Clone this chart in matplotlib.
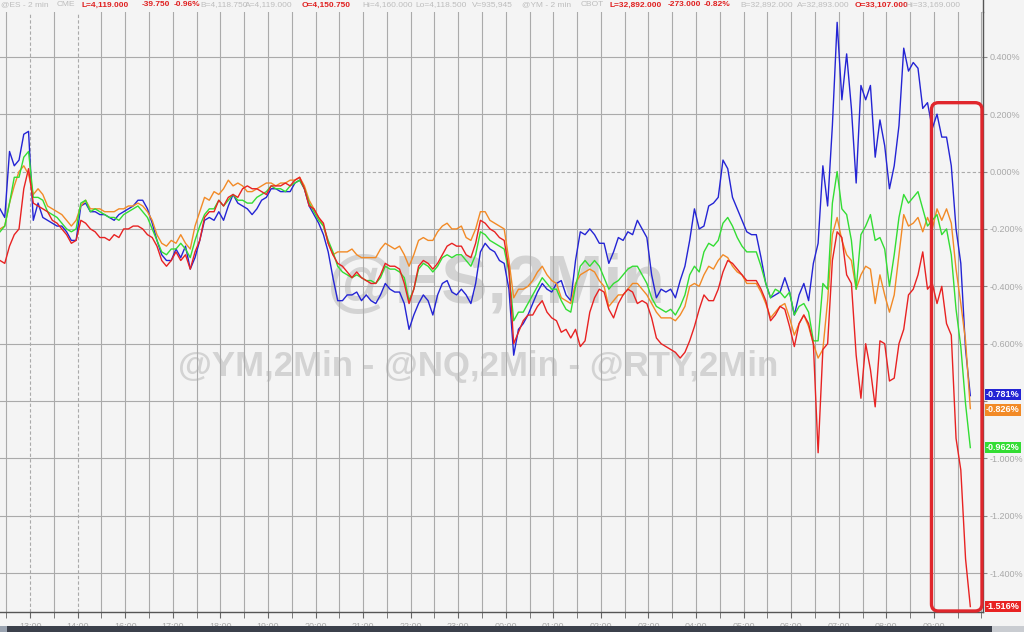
import numpy as np
import matplotlib
matplotlib.use("Agg")
import matplotlib.pyplot as plt
from matplotlib.patches import FancyBboxPatch, Rectangle
from matplotlib.lines import Line2D
from matplotlib.transforms import IdentityTransform

plt.rcParams['font.family'] = ['Liberation Sans', 'DejaVu Sans']

# 2-min charts sampled every 6 minutes, minutes from 12:22 on the chart clock
t = np.arange(205) * 6

ym_blue = [
    -0.13, -0.16, 0.07, 0.02, 0.04, 0.13, 0.14, -0.17, -0.11, -0.16,
    -0.17, -0.18, -0.19, -0.19, -0.21, -0.24, -0.24, -0.12, -0.11, -0.14,
    -0.14, -0.15, -0.15, -0.16, -0.17, -0.15, -0.14, -0.13, -0.12, -0.10,
    -0.10, -0.13, -0.18, -0.24, -0.29, -0.31, -0.31, -0.27, -0.30, -0.26,
    -0.34, -0.30, -0.24, -0.17, -0.16, -0.17, -0.14, -0.17, -0.12, -0.08,
    -0.11, -0.12, -0.13, -0.15, -0.13, -0.10, -0.09, -0.06, -0.06, -0.07,
    -0.07, -0.07, -0.04, -0.03, -0.06, -0.12, -0.15, -0.18, -0.22, -0.28,
    -0.37, -0.45, -0.45, -0.43, -0.43, -0.42, -0.45, -0.43, -0.45, -0.46,
    -0.43, -0.39, -0.41, -0.42, -0.42, -0.46, -0.55, -0.50, -0.46, -0.43,
    -0.45, -0.50, -0.43, -0.39, -0.38, -0.42, -0.43, -0.41, -0.43, -0.46,
    -0.39, -0.28, -0.25, -0.27, -0.28, -0.31, -0.32, -0.41, -0.64, -0.55,
    -0.53, -0.50, -0.46, -0.42, -0.39, -0.41, -0.42, -0.39, -0.38, -0.43,
    -0.45, -0.31, -0.21, -0.22, -0.20, -0.22, -0.25, -0.25, -0.32, -0.28,
    -0.23, -0.24, -0.21, -0.22, -0.17, -0.20, -0.23, -0.36, -0.44, -0.41,
    -0.42, -0.41, -0.44, -0.38, -0.33, -0.24, -0.13, -0.20, -0.19, -0.12,
    -0.11, -0.09, 0.04, 0.01, -0.09, -0.13, -0.17, -0.21, -0.22, -0.22,
    -0.30, -0.39, -0.44, -0.43, -0.42, -0.37, -0.42, -0.50, -0.43, -0.39,
    -0.45, -0.32, -0.25, 0.02, -0.12, 0.16, 0.52, 0.25, 0.41, 0.22,
    -0.04, 0.30, 0.25, 0.30, 0.05, 0.18, 0.09, -0.06, 0.02, 0.16,
    0.43, 0.35, 0.38, 0.36, 0.22, 0.24, 0.15, 0.20, 0.12, 0.12,
    0.02, -0.20, -0.32, -0.62, -0.781,
]

es_orange = [
    -0.20, -0.19, -0.11, -0.05, 0.00, 0.02, -0.01, -0.08, -0.06, -0.08,
    -0.12, -0.13, -0.14, -0.15, -0.17, -0.19, -0.17, -0.12, -0.10, -0.13,
    -0.13, -0.13, -0.14, -0.14, -0.14, -0.13, -0.13, -0.12, -0.12, -0.11,
    -0.12, -0.14, -0.17, -0.22, -0.25, -0.26, -0.24, -0.25, -0.22, -0.25,
    -0.27, -0.19, -0.14, -0.09, -0.10, -0.07, -0.08, -0.06, -0.03, -0.05,
    -0.04, -0.05, -0.07, -0.07, -0.06, -0.05, -0.04, -0.04, -0.05, -0.04,
    -0.04, -0.03, -0.03, -0.02, -0.05, -0.10, -0.13, -0.16, -0.19, -0.25,
    -0.29, -0.28, -0.28, -0.28, -0.27, -0.29, -0.30, -0.30, -0.30, -0.30,
    -0.27, -0.25, -0.26, -0.27, -0.26, -0.29, -0.33, -0.29, -0.24, -0.23,
    -0.24, -0.24, -0.21, -0.19, -0.18, -0.20, -0.20, -0.19, -0.23, -0.24,
    -0.20, -0.14, -0.14, -0.17, -0.18, -0.19, -0.20, -0.31, -0.44, -0.41,
    -0.41, -0.40, -0.38, -0.35, -0.33, -0.36, -0.38, -0.39, -0.44, -0.45,
    -0.46, -0.39, -0.36, -0.35, -0.34, -0.35, -0.38, -0.40, -0.47, -0.45,
    -0.43, -0.43, -0.41, -0.39, -0.39, -0.41, -0.43, -0.46, -0.49, -0.51,
    -0.51, -0.51, -0.52, -0.50, -0.47, -0.40, -0.39, -0.40, -0.36, -0.33,
    -0.34, -0.31, -0.29, -0.30, -0.33, -0.35, -0.36, -0.39, -0.39, -0.39,
    -0.42, -0.46, -0.51, -0.49, -0.47, -0.46, -0.51, -0.57, -0.53, -0.50,
    -0.54, -0.60, -0.65, -0.62, -0.45, -0.22, -0.16, -0.24, -0.29, -0.31,
    -0.41, -0.36, -0.33, -0.34, -0.46, -0.36, -0.43, -0.49, -0.43, -0.29,
    -0.15, -0.19, -0.18, -0.16, -0.21, -0.16, -0.20, -0.13, -0.17, -0.13,
    -0.18, -0.34, -0.46, -0.59, -0.826,
]

nq_green = [
    -0.21, -0.19, -0.11, -0.02, -0.02, 0.05, 0.07, -0.09, -0.09, -0.10,
    -0.14, -0.15, -0.16, -0.18, -0.20, -0.21, -0.20, -0.11, -0.10, -0.14,
    -0.13, -0.14, -0.15, -0.16, -0.16, -0.17, -0.15, -0.14, -0.13, -0.12,
    -0.14, -0.16, -0.20, -0.24, -0.28, -0.29, -0.27, -0.27, -0.25, -0.27,
    -0.30, -0.24, -0.19, -0.15, -0.13, -0.13, -0.10, -0.12, -0.10, -0.08,
    -0.10, -0.10, -0.11, -0.11, -0.09, -0.08, -0.07, -0.05, -0.06, -0.06,
    -0.07, -0.05, -0.04, -0.03, -0.06, -0.11, -0.14, -0.17, -0.19, -0.24,
    -0.28, -0.33, -0.35, -0.36, -0.37, -0.36, -0.37, -0.38, -0.38, -0.39,
    -0.37, -0.33, -0.34, -0.34, -0.35, -0.37, -0.45, -0.41, -0.34, -0.32,
    -0.33, -0.35, -0.33, -0.30, -0.29, -0.30, -0.29, -0.29, -0.31, -0.33,
    -0.29, -0.21, -0.22, -0.24, -0.25, -0.26, -0.27, -0.35, -0.52, -0.49,
    -0.49, -0.46, -0.43, -0.40, -0.37, -0.39, -0.41, -0.41, -0.45, -0.48,
    -0.49, -0.40, -0.33, -0.31, -0.33, -0.31, -0.33, -0.37, -0.41, -0.39,
    -0.38, -0.36, -0.34, -0.33, -0.33, -0.36, -0.39, -0.44, -0.47, -0.48,
    -0.49, -0.48, -0.50, -0.47, -0.43, -0.36, -0.33, -0.35, -0.28, -0.25,
    -0.26, -0.24, -0.18, -0.16, -0.19, -0.23, -0.26, -0.28, -0.28, -0.28,
    -0.33, -0.39, -0.44, -0.41, -0.42, -0.44, -0.42, -0.50, -0.47, -0.46,
    -0.49, -0.59, -0.59, -0.39, -0.41, -0.11, 0.00, -0.13, -0.15, -0.24,
    -0.41, -0.22, -0.19, -0.15, -0.24, -0.23, -0.27, -0.40, -0.29, -0.16,
    -0.08, -0.11, -0.09, -0.07, -0.13, -0.19, -0.17, -0.15, -0.22, -0.20,
    -0.29, -0.48, -0.61, -0.81, -0.962,
]

rty_red = [
    -0.31, -0.32, -0.26, -0.22, -0.20, -0.06, 0.01, -0.11, -0.12, -0.13,
    -0.14, -0.17, -0.18, -0.20, -0.22, -0.25, -0.24, -0.17, -0.18, -0.20,
    -0.21, -0.23, -0.23, -0.24, -0.22, -0.23, -0.20, -0.20, -0.19, -0.19,
    -0.20, -0.22, -0.23, -0.26, -0.31, -0.33, -0.31, -0.28, -0.31, -0.29,
    -0.34, -0.28, -0.24, -0.16, -0.14, -0.14, -0.10, -0.12, -0.09, -0.08,
    -0.09, -0.06, -0.05, -0.06, -0.06, -0.07, -0.08, -0.05, -0.05, -0.05,
    -0.04, -0.05, -0.03, -0.02, -0.06, -0.12, -0.13, -0.16, -0.18, -0.25,
    -0.29, -0.32, -0.33, -0.35, -0.37, -0.35, -0.37, -0.38, -0.39, -0.39,
    -0.36, -0.32, -0.33, -0.33, -0.34, -0.39, -0.46, -0.41, -0.33, -0.31,
    -0.32, -0.34, -0.32, -0.29, -0.26, -0.25, -0.26, -0.26, -0.29, -0.30,
    -0.25, -0.17, -0.18, -0.20, -0.21, -0.23, -0.24, -0.34, -0.60, -0.56,
    -0.52, -0.50, -0.50, -0.47, -0.45, -0.49, -0.51, -0.52, -0.56, -0.55,
    -0.58, -0.55, -0.61, -0.59, -0.49, -0.44, -0.41, -0.42, -0.48, -0.51,
    -0.46, -0.43, -0.41, -0.42, -0.46, -0.45, -0.46, -0.51, -0.58, -0.60,
    -0.61, -0.62, -0.63, -0.65, -0.63, -0.59, -0.54, -0.48, -0.43, -0.45,
    -0.45, -0.41, -0.35, -0.31, -0.32, -0.34, -0.36, -0.38, -0.38, -0.38,
    -0.41, -0.45, -0.52, -0.50, -0.47, -0.48, -0.54, -0.61, -0.53, -0.50,
    -0.53, -0.60, -0.98, -0.62, -0.60, -0.31, -0.21, -0.23, -0.36, -0.39,
    -0.64, -0.79, -0.60, -0.69, -0.82, -0.59, -0.60, -0.73, -0.72, -0.60,
    -0.55, -0.43, -0.41, -0.36, -0.28, -0.41, -0.39, -0.46, -0.40, -0.53,
    -0.57, -0.93, -1.04, -1.35, -1.516,
]

series = [
    (ym_blue, '#2424d4'),
    (es_orange, '#f28a26'),
    (nq_green, '#33dd33'),
    (rty_red, '#e82222'),
]
# small vertical nudge (points) so the stacked end-value tags do not touch
tag_nudge = [1.0, -1.0, 0, 0]

time_labels = ['13:00', '14:00', '16:00', '17:00', '18:00', '19:00', '20:00',
               '21:00', '22:00', '23:00', '00:00', '01:00', '02:00', '03:00',
               '04:00', '05:00', '06:00', '07:00', '08:00', '09:00']
label_min = 38 + 60 * np.arange(len(time_labels))
grid_min = np.arange(8, 1240, 30)
session_marks = [38, 98]
y_ticks = [0.4, 0.2, 0.0, -0.2, -0.4, -0.6, -0.8, -1.0, -1.2, -1.4]

header_texts = ['@ES - 2 min', 'CME', 'L=4,119.000', '-39.750', '-0.96%',
                'B=4,118.750', 'A=4,119.000', 'O=4,150.750', 'Hi=4,160.000',
                'Lo=4,118.500', 'V=935,945', '@YM - 2 min', 'CBOT',
                'L=32,892.000', '-273.000', '-0.82%', 'B=32,892.000',
                'A=32,893.000', 'O=33,107.000', 'Hi=33,169.000']
header_red = [False, False, True, True, True, False, False, True, False,
              False, False, False, False, True, True, True, False, False,
              True, False]
header_x = [1, 57, 81, 142, 174, 200, 245, 302, 362, 415, 472, 522, 581,
            609, 668, 704, 740, 797, 855, 905]

W, H = 1024, 632
bg = '#f4f4f4'
grid_c = '#aaaaaa'
label_c = '#a9a9a9'

fig = plt.figure(figsize=(W / 100, H / 100), dpi=100)
fig.patch.set_facecolor(bg)
ax = fig.add_axes([0, 20 / H, 983 / W, 600 / H])
ax.set_facecolor(bg)
ax.set_xlim(0, 1240)
ax.set_ylim(-1.535, 0.556)

for x in grid_min:
    ax.axvline(x, color=grid_c, lw=0.8, zorder=1,
               ls=(0, (3, 2)) if x in session_marks else '-')
for y in y_ticks:
    ax.axhline(y, color=grid_c, lw=0.8, zorder=1,
               ls=(0, (3, 2)) if y == 0 else '-')

ax.text(0.505, 0.545, '@ES,2Min', transform=ax.transAxes, ha='center',
        va='center', fontsize=50, fontweight='bold', color='#d3d3d3', zorder=0)
ax.text(0.486, 0.41, '@YM,2Min - @NQ,2Min - @RTY,2Min', transform=ax.transAxes,
        ha='center', va='center', fontsize=25, fontweight='bold',
        color='#d3d3d3', zorder=0)

for vals, c in series:
    ax.plot(t, vals, color=c, lw=1.0, zorder=3)

# tick labels hidden behind an end-value tag are left blank, as in the terminal
last_vals = [vals[-1] for vals, _ in series]
ytick_text = []
for v in y_ticks:
    covered = any(abs(v - lv) < 0.03 for lv in last_vals)
    ytick_text.append('' if covered else f'{v:.3f}%')

ax.yaxis.tick_right()
ax.set_yticks(y_ticks)
ax.set_yticklabels(ytick_text)
ax.tick_params(axis='y', direction='out', length=3, color='#888888',
               labelsize=6.5, labelcolor=label_c, pad=2)
ax.set_xticks(label_min)
ax.set_xticklabels(time_labels)
ax.set_xticks(grid_min, minor=True)
ax.tick_params(axis='x', which='both', direction='out', length=4,
               color='#666666', labelsize=6.5, labelcolor=label_c, pad=3)
for s in ['top', 'left']:
    ax.spines[s].set_visible(False)
for s in ['right', 'bottom']:
    ax.spines[s].set_color('#555555')
    ax.spines[s].set_linewidth(1.0)

# right spine runs on through the header strip
fig.add_artist(Line2D([983 / W, 983 / W], [1 - 12 / H, 1], color='#555555',
                      lw=1.0, transform=fig.transFigure))

for (vals, c), dy in zip(series, tag_nudge):
    ax.annotate(f'{vals[-1]:.3f}%', xy=(1, vals[-1]),
                xycoords=('axes fraction', 'data'), xytext=(2.0, dy),
                textcoords='offset points', ha='left', va='center',
                color='white', fontsize=6.5, fontweight='bold',
                bbox=dict(boxstyle='square,pad=0.12', fc=c, ec='none'),
                annotation_clip=False, zorder=6)

# highlight box around the final selloff
hl_start, hl_top = 1175, 0.24
x0, y1 = ax.transData.transform((hl_start, hl_top))
x1, y0 = ax.transAxes.transform((1, 0))
box = FancyBboxPatch((x0, y0 + 1), x1 - x0 - 1, y1 - y0 - 1,
                     boxstyle='round,pad=0,rounding_size=7',
                     transform=IdentityTransform(), fc='none',
                     ec='#e0262c', lw=2.4, zorder=7)
fig.add_artist(box)

for txt, is_red, px in zip(header_texts, header_red, header_x):
    fig.text(px / W, 1 - 5 / H, txt, ha='left', va='center', fontsize=6.0,
             color='#e02020' if is_red else '#bdbdbd',
             fontweight='bold' if is_red else 'normal')

fig.add_artist(Rectangle((0, 0), 7 / W, 6 / H, transform=fig.transFigure,
                         color='#9aa3b0', lw=0))
fig.add_artist(Rectangle((7 / W, 0), 985 / W, 6 / H, transform=fig.transFigure,
                         color='#3b404b', lw=0))
fig.add_artist(Rectangle((992 / W, 0), 32 / W, 6 / H, transform=fig.transFigure,
                         color='#c9ccd1', lw=0))

fig.savefig('out.png', dpi=100, facecolor=bg)
